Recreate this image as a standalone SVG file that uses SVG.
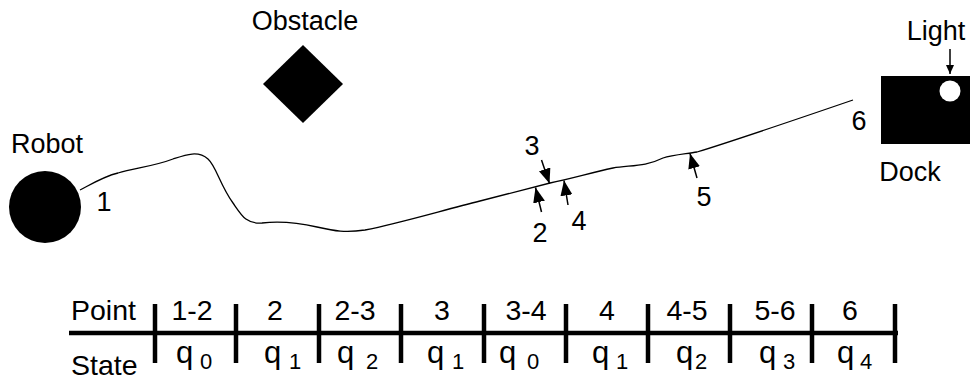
<svg xmlns="http://www.w3.org/2000/svg" width="974" height="381" viewBox="0 0 974 381">
<style>
text{font-family:"Liberation Sans",Arial,sans-serif;font-size:27px;fill:#000}
.m{text-anchor:middle}
.t{font-size:28.5px}
.q{font-size:31px}
.sub{font-size:22px}
.arr{stroke:#000;stroke-width:1.5;fill:none}
.tk{stroke:#000;stroke-width:4.5}
</style>
<defs>
<marker id="ah" viewBox="0 0 15 12" refX="15" refY="6" markerWidth="15" markerHeight="12" markerUnits="userSpaceOnUse" orient="auto">
<path d="M0,0 L15,6 L0,12 Z" fill="#000"/>
</marker>
<marker id="ahs" viewBox="0 0 9 8" refX="9" refY="4" markerWidth="9" markerHeight="8" markerUnits="userSpaceOnUse" orient="auto">
<path d="M0,0 L9,4 L0,8 Z" fill="#000"/>
</marker>
</defs>
<rect width="974" height="381" fill="#fff"/>
<g id="robot">
<circle cx="45" cy="207" r="36" fill="#000"/>
<text class="m" x="47" y="153">Robot</text>
</g>
<g id="obstacle">
<polygon points="303,45 343,84 303,123 263,84" fill="#000"/>
<text class="m" x="305" y="30">Obstacle</text>
</g>
<g id="dock">
<rect x="881" y="76" width="89" height="68" fill="#000"/>
<circle cx="950" cy="91" r="10.5" fill="#fff"/>
<text class="m" x="910" y="181">Dock</text>
<text class="m" x="936" y="40">Light</text>
</g>
<g id="path">
<path d="M80,190 C95,182 105,176 118,173 C135,168 155,166 173,159 C185,155 198,150 208,159 C216,166 220,185 233,203 C242,216 246,224 262,223 C280,221 295,222 317,227 C335,231 345,233 365,230 C400,223 440,211 480,201 L550,183 C570,179 590,173 613,168 C630,165 645,167 663,158 C672,155 685,154 697,152 C720,145 780,125 853,100" fill="none" stroke="#000" stroke-width="1.3"/>
</g>
<g id="labels">
<text class="m" x="104" y="211">1</text>
<text class="m" x="540" y="242">2</text>
<text class="m" x="532" y="155">3</text>
<text class="m" x="579" y="230">4</text>
<text class="m" x="704" y="206">5</text>
<text class="m" x="859" y="130">6</text>
</g>
<g id="connectors">
<line class="arr" x1="541.5" y1="160" x2="549.5" y2="183.5" marker-end="url(#ah)"/>
<line class="arr" x1="541.5" y1="212" x2="535.5" y2="187.5" marker-end="url(#ah)"/>
<line class="arr" x1="568" y1="205" x2="564" y2="180.5" marker-end="url(#ah)"/>
<line class="arr" x1="697" y1="178" x2="690" y2="153.5" marker-end="url(#ah)"/>
<line class="arr" x1="950" y1="49" x2="950" y2="74" marker-end="url(#ahs)"/>
</g>
<g id="table">
<line class="tk" x1="69" y1="333" x2="898" y2="333"/>
<line class="tk" x1="155" y1="304" x2="155" y2="363"/>
<line class="tk" x1="236" y1="304" x2="236" y2="363"/>
<line class="tk" x1="319" y1="304" x2="319" y2="363"/>
<line class="tk" x1="401" y1="304" x2="401" y2="363"/>
<line class="tk" x1="484" y1="304" x2="484" y2="363"/>
<line class="tk" x1="566" y1="304" x2="566" y2="363"/>
<line class="tk" x1="648" y1="304" x2="648" y2="363"/>
<line class="tk" x1="730" y1="304" x2="730" y2="363"/>
<line class="tk" x1="812" y1="304" x2="812" y2="363"/>
<line class="tk" x1="895" y1="304" x2="895" y2="363"/>
<text class="t" x="71" y="320">Point</text>
<text class="t" x="71" y="375">State</text>
<text class="m t" x="192" y="320">1-2</text>
<text class="m t" x="275" y="320">2</text>
<text class="m t" x="355" y="320">2-3</text>
<text class="m t" x="442" y="320">3</text>
<text class="m t" x="526" y="320">3-4</text>
<text class="m t" x="607" y="320">4</text>
<text class="m t" x="687" y="320">4-5</text>
<text class="m t" x="775" y="320">5-6</text>
<text class="m t" x="850" y="320">6</text>
<text class="q" x="176" y="363">q<tspan class="sub" x="200" y="369">0</tspan></text>
<text class="q" x="264" y="363">q<tspan class="sub" x="289" y="369">1</tspan></text>
<text class="q" x="337" y="363">q<tspan class="sub" x="366" y="369">2</tspan></text>
<text class="q" x="427" y="363">q<tspan class="sub" x="452" y="369">1</tspan></text>
<text class="q" x="499" y="363">q<tspan class="sub" x="527" y="369">0</tspan></text>
<text class="q" x="592" y="363">q<tspan class="sub" x="616" y="369">1</tspan></text>
<text class="q" x="676" y="363">q<tspan class="sub" x="695" y="369">2</tspan></text>
<text class="q" x="759" y="363">q<tspan class="sub" x="783" y="369">3</tspan></text>
<text class="q" x="837" y="363">q<tspan class="sub" x="860" y="369">4</tspan></text>
</g>
</svg>
